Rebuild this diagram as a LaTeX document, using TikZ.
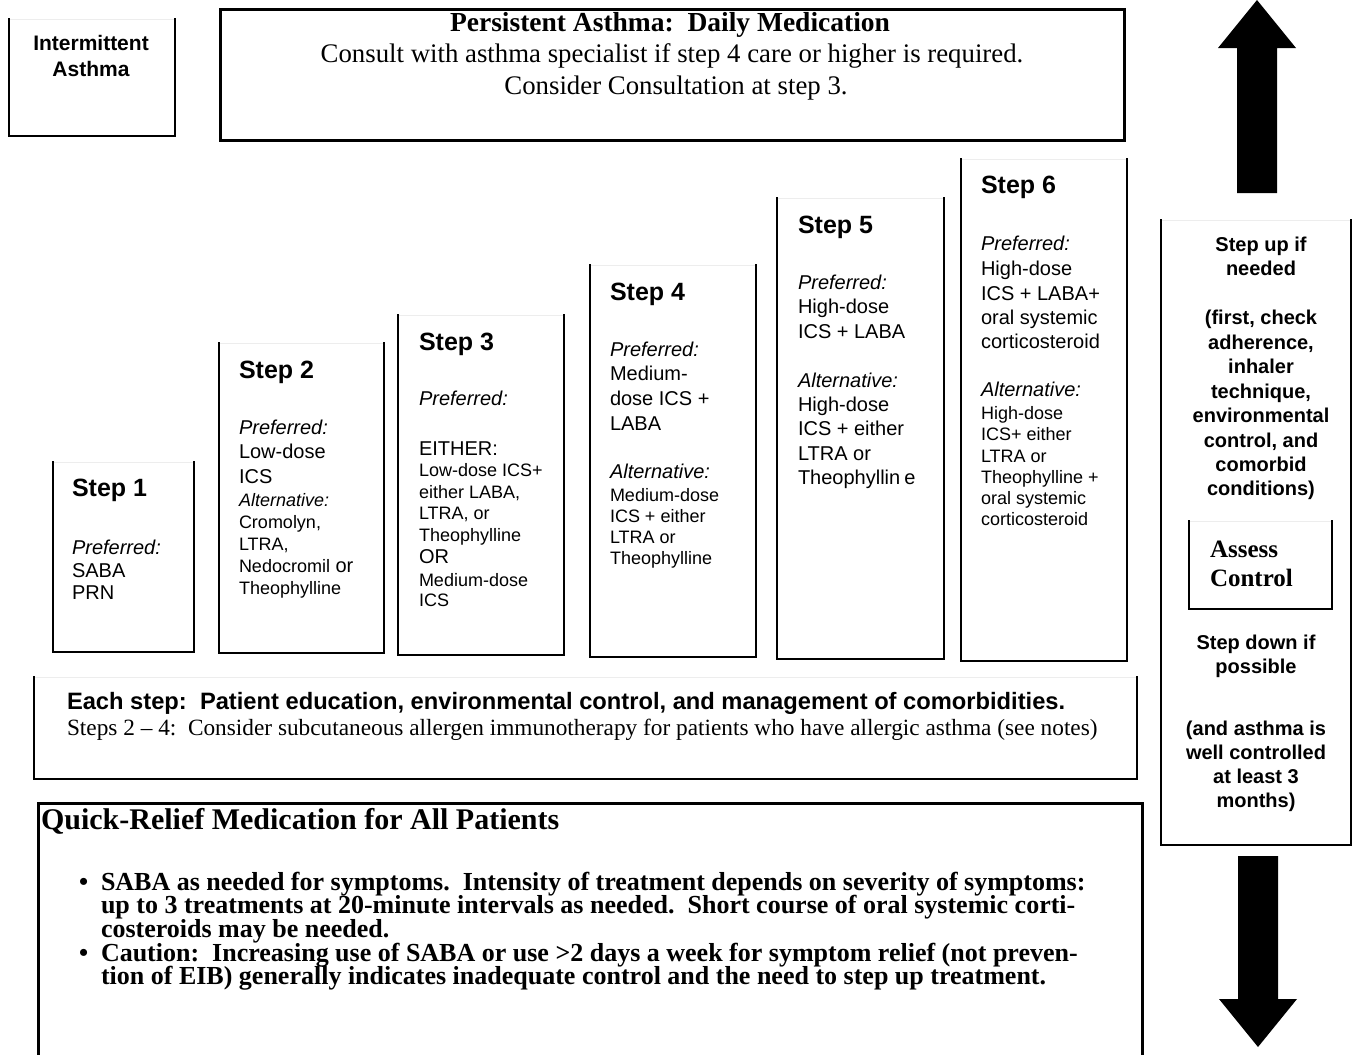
\documentclass[tikz,border=0pt]{standalone}
\usepackage{fontspec}
\setmainfont{Liberation Serif}
\setsansfont{Liberation Sans}
\newcommand\fs[2]{\fontsize{#1}{#2}\selectfont}
\newcommand\sm{\fs{18}{21}}
\newcommand\stepframe[4]{%
  \draw[faint] (#1,#2) -- (#3,#2);
  \draw[openbox] (#1,#2) -- (#1,#4) -- (#3,#4) -- (#3,#2);}
\begin{document}
\begin{tikzpicture}[x=1pt,y=-1pt,
  openbox/.style={line width=1.6pt,line cap=rect},
  faint/.style={draw=black!7,line width=1pt},
  heavy/.style={line width=3pt,line join=miter},
  txt/.style={anchor=base west,inner sep=0pt,outer sep=0pt},
  ctxt/.style={anchor=base,inner sep=0pt,outer sep=0pt},
  shead/.style={txt,font=\sffamily\bfseries\fs{25}{29}},
  sbody/.style={txt,font=\sffamily\fs{20}{24}},
  sside/.style={ctxt,font=\sffamily\bfseries\fs{20}{24}},
  blockarrow/.style={fill=black,draw=none}
]
\useasboundingbox (0,0) rectangle (1353,1055);

% ---------- frames ----------
\stepframe{9}{19}{175}{136}
\draw[heavy] (220,9) rectangle (1124,140);
\stepframe{53}{462}{194}{652}
\stepframe{219}{343}{384}{653}
\stepframe{398}{315}{564}{655}
\stepframe{590}{265}{756}{657}
\stepframe{777}{198}{944}{659}
\stepframe{961}{159}{1127}{661}
\stepframe{1161}{220}{1351}{845}
\stepframe{1189}{521}{1332}{609}
\stepframe{34}{677}{1137}{779}
\draw[heavy] (38,1056) -- (38,803) -- (1142,803) -- (1142,1056);

% ---------- block arrows ----------
\fill[blockarrow] (1237,193) -- (1237,48) -- (1218,48) -- (1257,0) -- (1296,48) -- (1277,48) -- (1277,193) -- cycle;
\fill[blockarrow] (1238,856) -- (1278,856) -- (1278,999) -- (1297,999) -- (1258,1047) -- (1219,999) -- (1238,999) -- cycle;

% ---------- intermittent ----------
\node[ctxt,font=\sffamily\bfseries\fs{21}{25}] (int1) at (91,50) {Intermittent};
\node[ctxt,font=\sffamily\bfseries\fs{21}{25}] (int2) at (91,76) {Asthma};

% ---------- persistent ----------
\node[ctxt,font=\bfseries\fs{27.5}{31}] (per1) at (670,31) {Persistent Asthma:\ \ Daily Medication};
\node[ctxt,font=\fs{26.8}{31}] (per2) at (672,62) {Consult with asthma specialist if step 4 care or higher is required.};
\node[ctxt,font=\fs{26.8}{31}] (per3) at (676,94) {Consider Consultation at step 3.};

% ---------- step 1 ----------
\node[shead] (h1) at (72,496) {Step 1};
\foreach \ly/\lt [count=\i] in {554/{\itshape Preferred:}, 577/SABA, 599/PRN}
  \node[sbody] (sa\i) at (72,\ly) {\lt};

% ---------- step 2 ----------
\node[shead] (h2) at (239,378) {Step 2};
\foreach \ly/\lt [count=\i] in {434/{\itshape Preferred:}, 458/Low-dose, 483/ICS,
   506/{\sm\itshape Alternative:}, 528/{\sm Cromolyn,}, 550/{\sm LTRA,},
   572/{{\sm Nedocromil} or}, 594/{\sm Theophylline}}
  \node[sbody] (sb\i) at (239,\ly) {\lt};

% ---------- step 3 ----------
\node[shead] (h3) at (419,350) {Step 3};
\foreach \ly/\lt [count=\i] in {405/{\itshape Preferred:}, 455/EITHER:,
   476/{\sm Low-dose ICS+}, 498/{\sm either LABA,}, 519/{\sm LTRA, or},
   541/{\sm Theophylline}, 563/OR, 586/{\sm Medium-dose}, 606/{\sm ICS}}
  \node[sbody] (sc\i) at (419,\ly) {\lt};

% ---------- step 4 ----------
\node[shead] (h4) at (610,300) {Step 4};
\foreach \ly/\lt [count=\i] in {356/{\itshape Preferred:}, 380/Medium-, 405/{dose ICS +},
   430/LABA, 478/{\itshape Alternative:}, 501/{\sm Medium-dose}, 522/{\sm ICS + either},
   543/{\sm LTRA or}, 564/{\sm Theophylline}}
  \node[sbody] (sd\i) at (610,\ly) {\lt};

% ---------- step 5 ----------
\node[shead] (h5) at (798,233) {Step 5};
\foreach \ly/\lt [count=\i] in {289/{\itshape Preferred:}, 313/High-dose, 338/{ICS + LABA},
   387/{\itshape Alternative:}, 411/High-dose, 435/{ICS + either}, 460/{LTRA or},
   484/{Theophyllin\hspace{4pt}e}}
  \node[sbody] (se\i) at (798,\ly) {\lt};

% ---------- step 6 ----------
\node[shead] (h6) at (981,193) {Step 6};
\foreach \ly/\lt [count=\i] in {250/{\itshape Preferred:}, 275/High-dose, 300/{ICS + LABA+},
   324/{oral systemic}, 348/corticosteroid, 396/{\itshape Alternative:},
   419/{\sm High-dose}, 440/{\sm ICS+ either}, 462/{\sm LTRA or},
   483/{\sm Theophylline +}, 504/{\sm oral systemic}, 525/{\sm corticosteroid}}
  \node[sbody] (sf\i) at (981,\ly) {\lt};

% ---------- right column ----------
\foreach \ly/\lt [count=\i] in {251/{Step up if}, 275/needed, 324/{(first, check},
   349/{adherence,}, 373/inhaler, 398/{technique,}, 422/environmental,
   447/{control, and}, 471/comorbid, 495/{conditions)}}
  \node[sside] (up\i) at (1261,\ly) {\lt};
\node[txt,font=\bfseries\fs{25}{29}] (as1) at (1210,557) {Assess};
\node[txt,font=\bfseries\fs{25}{29}] (as2) at (1210,586) {Control};
\foreach \ly/\lt [count=\i] in {649/{Step down if}, 673/possible, 735/{(and asthma is},
   759/{well controlled}, 783/{at least 3}, 807/{months)}}
  \node[sside] (dn\i) at (1256,\ly) {\lt};

% ---------- each step ----------
\node[txt,font=\sffamily\bfseries\fs{23.7}{27}] (es1) at (67,709)
  {Each step:\ \ Patient education, environmental control, and management of comorbidities.};
\node[txt,font=\fs{23.3}{27}] (es2) at (67,735)
  {Steps 2 -- 4:\ \ Consider subcutaneous allergen immunotherapy for patients who have allergic asthma (see notes)};

% ---------- quick relief ----------
\node[txt,font=\bfseries\fs{30}{34}] (qr) at (41,829) {Quick-Relief Medication for All Patients};
\node[txt,font=\bfseries\fs{26}{23}] (b1) at (79,890) {\textbullet};
\node[txt,font=\bfseries\fs{26}{23}] (b2) at (79,961) {\textbullet};
\foreach \ly/\lt [count=\i] in {
  890/{SABA as needed for symptoms.\ \ Intensity of treatment depends on severity of symptoms:},
  913/{up to 3 treatments at 20-minute intervals as needed.\ \ Short course of oral systemic corti-},
  937/{costeroids may be needed.},
  961/{Caution:\ \ Increasing use of SABA or use >2 days a week for symptom relief (not preven-},
  984/{tion of EIB) generally indicates inadequate control and the need to step up treatment.}}
  \node[txt,font=\bfseries\fs{26}{23}] (q\i) at (101,\ly) {\lt};
\end{tikzpicture}
\end{document}
